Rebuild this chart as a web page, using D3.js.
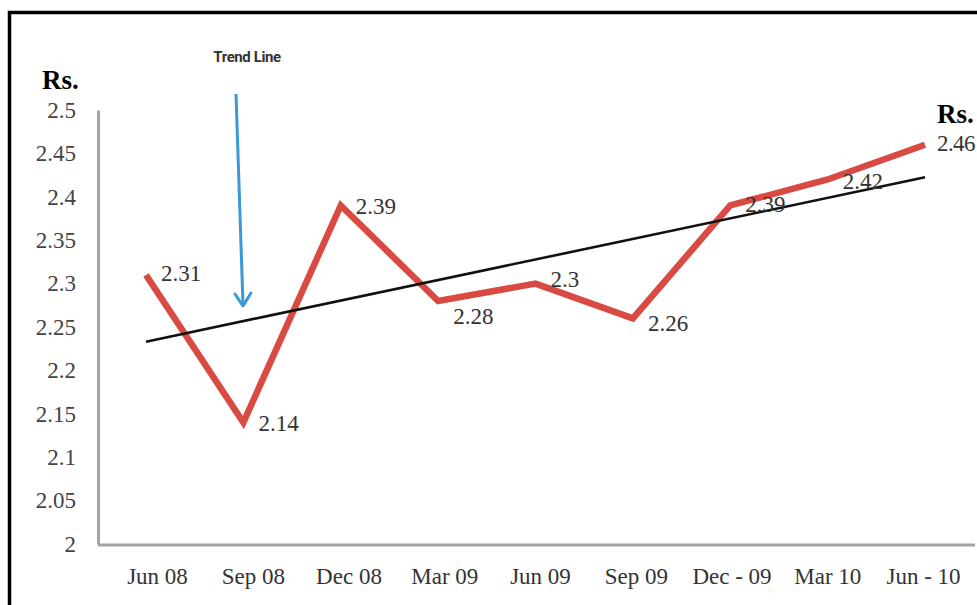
<!DOCTYPE html>
<html>
<head>
<meta charset="utf-8">
<script src="https://cdn.jsdelivr.net/npm/d3@7/dist/d3.min.js"></script>
<style>
  html, body { margin: 0; padding: 0; background: #fff; }
  svg { display: block; }
</style>
</head>
<body>
<svg id="chart" width="977" height="605"></svg>
<script>
// Quarterly price (Rs.)
const quarters = ["Jun 08", "Sep 08", "Dec 08", "Mar 09", "Jun 09", "Sep 09", "Dec - 09", "Mar 10", "Jun - 10"];
const prices = [2.31, 2.14, 2.39, 2.28, 2.3, 2.26, 2.39, 2.42, 2.46];
const yTicks = [2, 2.05, 2.1, 2.15, 2.2, 2.25, 2.3, 2.35, 2.4, 2.45, 2.5];
const yTickLabels = ["2", "2.05", "2.1", "2.15", "2.2", "2.25", "2.3", "2.35", "2.4", "2.45", "2.5"];
// vertical nudge of each value label (px)
const labelNudge = [-2, 0, 0, 15, -5, 5, -2, 2, -2];

const svg = d3.select("#chart");
const W = 977, H = 605;

const x = d3.scalePoint().domain(quarters).range([146, 925]);
const xText = d3.scalePoint().domain(quarters).range([157, 923]);
const y = d3.scaleLinear().domain([2, 2.5]).range([544, 110]);

const serif = "'Liberation Serif', 'Times New Roman', serif";

// frame
svg.append("path")
  .attr("d", `M9.5,${H} V12.5 H${W}`)
  .attr("fill", "none").attr("stroke", "#000").attr("stroke-width", 3.5);

// y axis
const yAxis = svg.append("g")
  .attr("transform", "translate(98,0)")
  .call(d3.axisLeft(y).tickValues(yTicks).tickFormat((d, i) => yTickLabels[i])
    .tickSize(0).tickSizeOuter(0).tickPadding(22));
yAxis.select(".domain").attr("stroke", "#a3a3a3").attr("stroke-width", 3);
yAxis.selectAll("text")
  .attr("font-family", serif).attr("font-size", 23).attr("fill", "#444");

// x axis baseline
svg.append("line")
  .attr("x1", 98).attr("x2", 975)
  .attr("y1", y(2) + 1).attr("y2", y(2) + 1)
  .attr("stroke", "#a3a3a3").attr("stroke-width", 3);

// x axis labels
const xAxis = svg.append("g")
  .attr("transform", `translate(0,${y(2)})`)
  .call(d3.axisBottom(xText).tickSize(0).tickPadding(24));
xAxis.select(".domain").remove();
xAxis.selectAll("text")
  .attr("font-family", serif).attr("font-size", 23).attr("fill", "#333");

// price line
const line = d3.line().x((d, i) => x(quarters[i])).y(d => y(d));
svg.append("path")
  .datum(prices)
  .attr("d", line)
  .attr("fill", "none")
  .attr("stroke", "#d94a43")
  .attr("stroke-width", 6.5)
  .attr("stroke-linejoin", "miter");

// least-squares trend line
const n = prices.length;
const mx = (n - 1) / 2;
const my = d3.mean(prices);
let sxy = 0, sxx = 0;
prices.forEach((v, i) => { sxy += (i - mx) * (v - my); sxx += (i - mx) * (i - mx); });
const slope = sxy / sxx;
const intercept = my - slope * mx;
svg.append("line")
  .attr("x1", x(quarters[0])).attr("y1", y(intercept))
  .attr("x2", x(quarters[n - 1])).attr("y2", y(intercept + slope * (n - 1)))
  .attr("stroke", "#111").attr("stroke-width", 2.6);

// value labels
svg.append("g").selectAll("text")
  .data(prices)
  .join("text")
  .attr("x", (d, i) => x(quarters[i]) + (i === n - 1 ? 12 : 15))
  .attr("y", (d, i) => y(d) + labelNudge[i])
  .attr("dy", "0.35em")
  .attr("font-family", serif).attr("font-size", 23).attr("fill", "#333")
  .attr("letter-spacing", (d, i) => i === n - 1 ? -0.6 : 0)
  .text(d => String(d));

// unit labels
svg.append("text").attr("x", 42).attr("y", 89)
  .attr("font-family", serif).attr("font-weight", "bold").attr("font-size", 27)
  .attr("fill", "#000").text("Rs.");
svg.append("text").attr("x", 937).attr("y", 123)
  .attr("font-family", serif).attr("font-weight", "bold").attr("font-size", 27)
  .attr("fill", "#000").text("Rs.");

// trend line callout
svg.append("text").attr("x", 247).attr("y", 62)
  .attr("text-anchor", "middle")
  .attr("font-family", "Roboto, sans-serif").attr("font-weight", "bold")
  .attr("font-size", 15).attr("letter-spacing", -0.4)
  .attr("fill", "#333").text("Trend Line");
svg.append("line")
  .attr("x1", 236).attr("y1", 94).attr("x2", 243).attr("y2", 305)
  .attr("stroke", "#3a9ad8").attr("stroke-width", 3);
svg.append("path")
  .attr("d", "M235,294 L243,306 L251,293")
  .attr("fill", "none").attr("stroke", "#3a9ad8").attr("stroke-width", 3)
  .attr("stroke-linecap", "round").attr("stroke-linejoin", "round");
</script>
</body>
</html>
